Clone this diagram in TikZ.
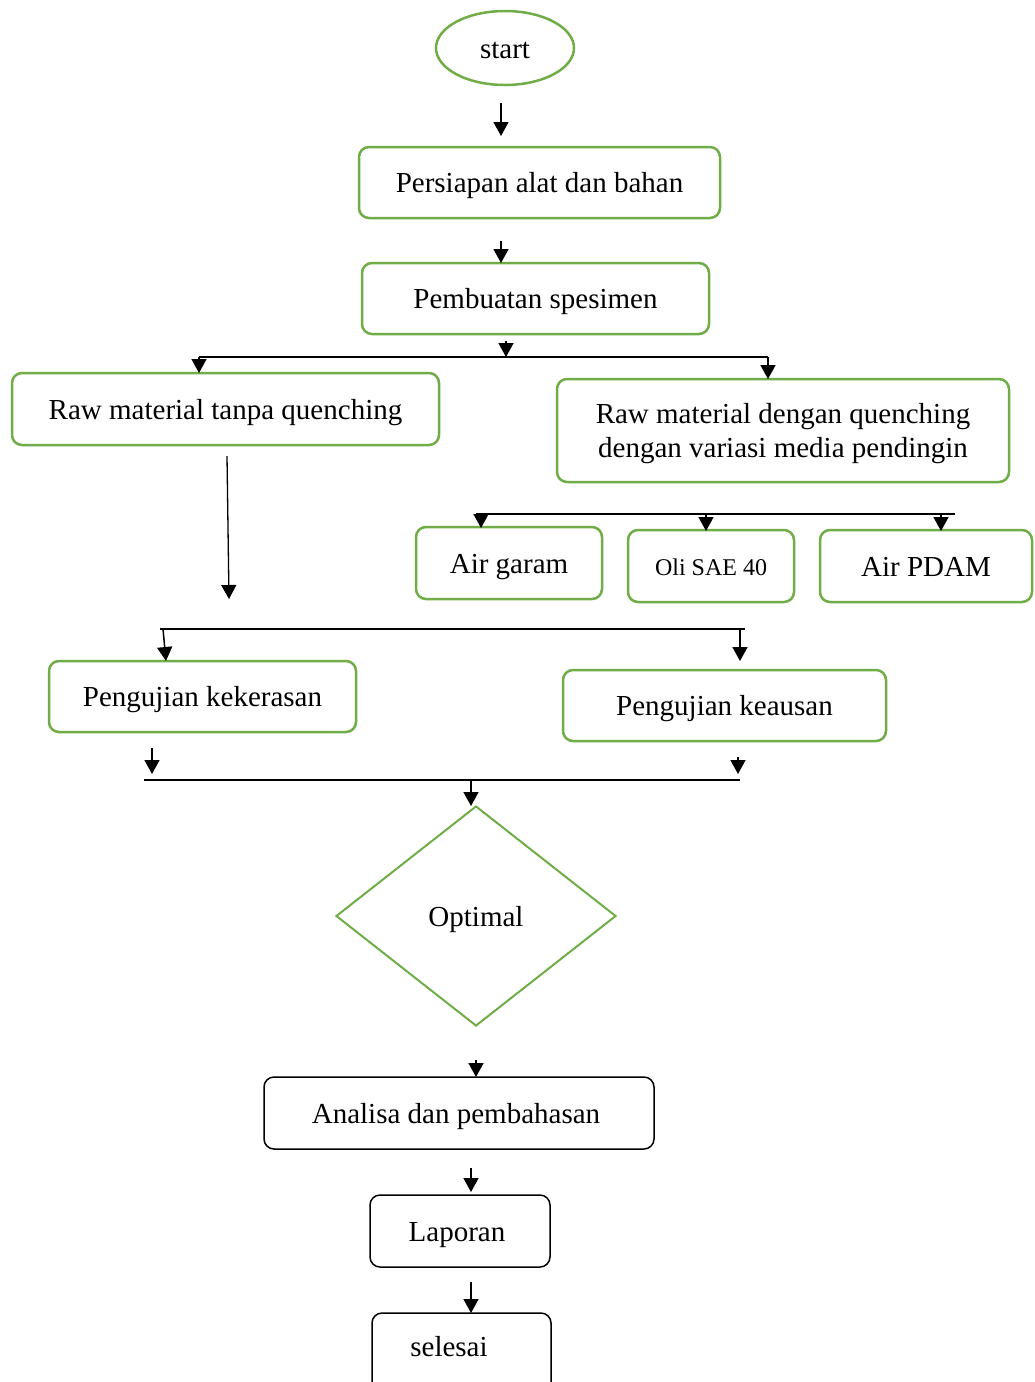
\documentclass[tikz,border=0pt]{standalone}
\usepackage{fontspec}
\setmainfont{Liberation Serif}
\usetikzlibrary{arrows.meta,shapes.geometric}
\definecolor{gr}{HTML}{70AD47}
\tikzset{
  txt/.style={font=\fontsize{29}{34}\selectfont, text height=24pt, text depth=4pt},
  gbox/.style={draw=gr, line width=2.5pt, rounded corners=10pt, inner sep=0pt, txt},
  kbox/.style={draw=black, line width=1.5pt, rounded corners=10pt, inner sep=0pt, txt},
  flow/.style={draw, line width=1.5pt, -{Triangle[length=14pt,width=15pt]}},
  bar/.style={draw, line width=1.8pt},
  lbl/.style={inner sep=0pt, txt}
}
\begin{document}
\begin{tikzpicture}[x=1pt,y=-1pt]
\path[use as bounding box] (0,0) rectangle (1034,1382);
\clip (0,0) rectangle (1034,1382);
\fill[white] (0,0) rectangle (1034,1382);

% nodes
\node[ellipse, draw=gr, line width=2.5pt, minimum width=138pt, minimum height=74pt, inner sep=0pt, txt] (start) at (505,48) {start};
\node[gbox, minimum width=361pt, minimum height=71pt] (persiapan) at (539.5,182.5) {Persiapan alat dan bahan};
\node[gbox, minimum width=347pt, minimum height=71pt] (pembuatan) at (535.5,298.5) {Pembuatan spesimen};
\node[gbox, minimum width=427pt, minimum height=72pt] (tanpa) at (225.5,409) {Raw material tanpa quenching};
\node[gbox, minimum width=452pt, minimum height=103pt, align=center, text height=58pt, text depth=4pt] (dengan) at (783,430.5) {Raw material dengan quenching\\dengan variasi media pendingin};
\node[gbox, minimum width=186pt, minimum height=72pt] (garam) at (509,563) {Air garam};
\node[gbox, minimum width=166pt, minimum height=72pt, font=\fontsize{24}{28}\selectfont, text height=20pt, text depth=2pt] (oli) at (711,566) {Oli SAE 40};
\node[gbox, minimum width=212pt, minimum height=72pt] (pdam) at (926,566) {Air PDAM};
\node[gbox, minimum width=307pt, minimum height=71pt] (keras) at (202.5,696.5) {Pengujian kekerasan};
\node[gbox, minimum width=323pt, minimum height=71pt] (aus) at (724.5,705.5) {Pengujian keausan};
\node[diamond, draw=gr, line width=2pt, minimum width=280pt, minimum height=220pt, inner sep=0pt, txt] (opt) at (476,916) {Optimal};
\node[kbox, minimum width=390pt, minimum height=72pt] (analisa) at (459,1113) {};
\node[lbl] (analisatext) at (456,1113) {Analisa dan pembahasan};
\node[kbox, minimum width=180pt, minimum height=72pt] (laporan) at (460,1231) {};
\node[lbl] (laporantext) at (457,1231) {Laporan};
\node[kbox, minimum width=179pt, minimum height=100pt] (selesai) at (461.5,1363) {};
\node[lbl] (selesaitext) at (449,1346) {selesai};

% coordinates
\coordinate (a1s) at (501,103); \coordinate (a1e) at (501,136);
\coordinate (a2s) at (501,241); \coordinate (a2e) at (501,263);
\coordinate (a3s) at (506,341); \coordinate (a3e) at (506,357);
\coordinate (h1l) at (199,357); \coordinate (h1r) at (768,357);
\coordinate (a4e) at (199,373); \coordinate (a5e) at (768,379);
\coordinate (vs) at (227,456); \coordinate (ve) at (229,599);
\coordinate (h2l) at (476,514); \coordinate (h2r) at (955,514);
\coordinate (g1s) at (481,514); \coordinate (g1e) at (481,528);
\coordinate (g2s) at (706,514); \coordinate (g2e) at (706,531);
\coordinate (g3s) at (941,514); \coordinate (g3e) at (941,531);
\coordinate (h3l) at (160,629); \coordinate (h3r) at (745,629);
\coordinate (k1s) at (163,629); \coordinate (k1e) at (166,661);
\coordinate (k2s) at (740,629); \coordinate (k2e) at (740,661);
\coordinate (m1s) at (152,748); \coordinate (m1e) at (152,774);
\coordinate (m2s) at (738,757); \coordinate (m2e) at (738,774);
\coordinate (h4l) at (144,780); \coordinate (h4r) at (740,780);
\coordinate (o1s) at (471,780); \coordinate (o1e) at (471,806);
\coordinate (b1s) at (476,1060); \coordinate (b1e) at (476,1077);
\coordinate (b2s) at (471,1168); \coordinate (b2e) at (471,1192);
\coordinate (b3s) at (471,1282); \coordinate (b3e) at (471,1313);

% connectors
\draw[flow] (a1s) -- (a1e);
\draw[flow] (a2s) -- (a2e);
\draw[flow] (a3s) -- (a3e);
\draw[bar] (h1l) -- (h1r);
\draw[flow] (h1l) -- (a4e);
\draw[flow] (h1r) -- (a5e);
\draw[flow, line width=1.3pt] (vs) -- (ve);
\draw[bar] (h2l) -- (h2r);
\draw[flow] (g1s) -- (g1e);
\draw[flow] (g2s) -- (g2e);
\draw[flow] (g3s) -- (g3e);
\draw[bar] (h3l) -- (h3r);
\draw[flow] (k1s) -- (k1e);
\draw[flow] (k2s) -- (k2e);
\draw[flow] (m1s) -- (m1e);
\draw[flow] (m2s) -- (m2e);
\draw[bar] (h4l) -- (h4r);
\draw[flow] (o1s) -- (o1e);
\draw[flow] (b1s) -- (b1e);
\draw[flow] (b2s) -- (b2e);
\draw[flow] (b3s) -- (b3e);
\end{tikzpicture}
\end{document}
